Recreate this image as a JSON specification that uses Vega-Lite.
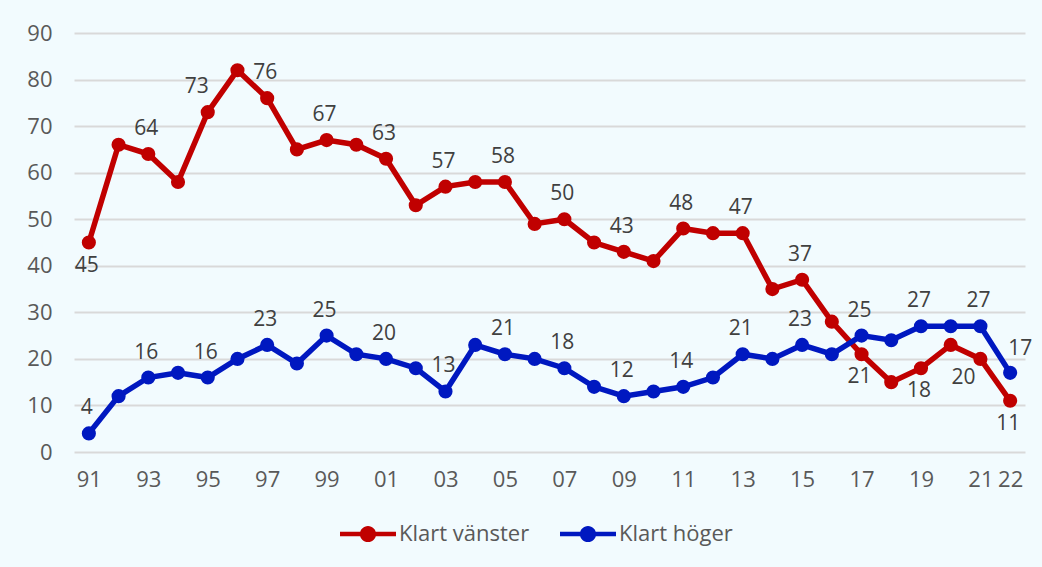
{
  "$schema": "https://vega.github.io/schema/vega-lite/v6.json",
  "autosize": {"type": "none"},
  "width": 951,
  "height": 419,
  "padding": {"left": 74, "top": 33, "right": 17, "bottom": 115},
  "background": "#f2fbfe",
  "config": {
    "view": {"stroke": null},
    "font": "Open Sans",
    "axis": {"labelFont": "Open Sans", "labelColor": "#595959", "labelFontSize": 22, "domain": false, "ticks": false, "title": null}
  },
  "data": {"values": [
    {"year": 1991, "serie": "Klart vänster", "value": 45},
    {"year": 1992, "serie": "Klart vänster", "value": 66},
    {"year": 1993, "serie": "Klart vänster", "value": 64},
    {"year": 1994, "serie": "Klart vänster", "value": 58},
    {"year": 1995, "serie": "Klart vänster", "value": 73},
    {"year": 1996, "serie": "Klart vänster", "value": 82},
    {"year": 1997, "serie": "Klart vänster", "value": 76},
    {"year": 1998, "serie": "Klart vänster", "value": 65},
    {"year": 1999, "serie": "Klart vänster", "value": 67},
    {"year": 2000, "serie": "Klart vänster", "value": 66},
    {"year": 2001, "serie": "Klart vänster", "value": 63},
    {"year": 2002, "serie": "Klart vänster", "value": 53},
    {"year": 2003, "serie": "Klart vänster", "value": 57},
    {"year": 2004, "serie": "Klart vänster", "value": 58},
    {"year": 2005, "serie": "Klart vänster", "value": 58},
    {"year": 2006, "serie": "Klart vänster", "value": 49},
    {"year": 2007, "serie": "Klart vänster", "value": 50},
    {"year": 2008, "serie": "Klart vänster", "value": 45},
    {"year": 2009, "serie": "Klart vänster", "value": 43},
    {"year": 2010, "serie": "Klart vänster", "value": 41},
    {"year": 2011, "serie": "Klart vänster", "value": 48},
    {"year": 2012, "serie": "Klart vänster", "value": 47},
    {"year": 2013, "serie": "Klart vänster", "value": 47},
    {"year": 2014, "serie": "Klart vänster", "value": 35},
    {"year": 2015, "serie": "Klart vänster", "value": 37},
    {"year": 2016, "serie": "Klart vänster", "value": 28},
    {"year": 2017, "serie": "Klart vänster", "value": 21},
    {"year": 2018, "serie": "Klart vänster", "value": 15},
    {"year": 2019, "serie": "Klart vänster", "value": 18},
    {"year": 2020, "serie": "Klart vänster", "value": 23},
    {"year": 2021, "serie": "Klart vänster", "value": 20},
    {"year": 2022, "serie": "Klart vänster", "value": 11},
    {"year": 1991, "serie": "Klart höger", "value": 4},
    {"year": 1992, "serie": "Klart höger", "value": 12},
    {"year": 1993, "serie": "Klart höger", "value": 16},
    {"year": 1994, "serie": "Klart höger", "value": 17},
    {"year": 1995, "serie": "Klart höger", "value": 16},
    {"year": 1996, "serie": "Klart höger", "value": 20},
    {"year": 1997, "serie": "Klart höger", "value": 23},
    {"year": 1998, "serie": "Klart höger", "value": 19},
    {"year": 1999, "serie": "Klart höger", "value": 25},
    {"year": 2000, "serie": "Klart höger", "value": 21},
    {"year": 2001, "serie": "Klart höger", "value": 20},
    {"year": 2002, "serie": "Klart höger", "value": 18},
    {"year": 2003, "serie": "Klart höger", "value": 13},
    {"year": 2004, "serie": "Klart höger", "value": 23},
    {"year": 2005, "serie": "Klart höger", "value": 21},
    {"year": 2006, "serie": "Klart höger", "value": 20},
    {"year": 2007, "serie": "Klart höger", "value": 18},
    {"year": 2008, "serie": "Klart höger", "value": 14},
    {"year": 2009, "serie": "Klart höger", "value": 12},
    {"year": 2010, "serie": "Klart höger", "value": 13},
    {"year": 2011, "serie": "Klart höger", "value": 14},
    {"year": 2012, "serie": "Klart höger", "value": 16},
    {"year": 2013, "serie": "Klart höger", "value": 21},
    {"year": 2014, "serie": "Klart höger", "value": 20},
    {"year": 2015, "serie": "Klart höger", "value": 23},
    {"year": 2016, "serie": "Klart höger", "value": 21},
    {"year": 2017, "serie": "Klart höger", "value": 25},
    {"year": 2018, "serie": "Klart höger", "value": 24},
    {"year": 2019, "serie": "Klart höger", "value": 27},
    {"year": 2020, "serie": "Klart höger", "value": 27},
    {"year": 2021, "serie": "Klart höger", "value": 27},
    {"year": 2022, "serie": "Klart höger", "value": 17}
  ]},
  "encoding": {
    "x": {"field": "year", "type": "quantitative",
      "scale": {"domain": [1990.5, 2022.5], "nice": false, "zero": false},
      "axis": {"values": [1991,1993,1995,1997,1999,2001,2003,2005,2007,2009,2011,2013,2015,2017,2019,2021,2022], "labelExpr": "slice(toString(datum.value), 2)", "grid": false, "labelPadding": 17}},
    "y": {"field": "value", "type": "quantitative",
      "scale": {"domain": [0, 90], "nice": false},
      "axis": {"values": [0,10,20,30,40,50,60,70,80,90], "gridColor": "#d9d9d9", "gridWidth": 2, "labelPadding": 22}},
    "color": {"field": "serie", "type": "nominal",
      "scale": {"domain": ["Klart vänster", "Klart höger"], "range": ["#c00000", "#0018c0"]},
      "legend": {"title": null, "orient": "none", "direction": "horizontal", "legendX": 266, "legendY": 473,
        "symbolType": "M-1,-0.08H1V0.08H-1Z M0.29,0A0.29,0.29,0,1,1,-0.29,0A0.29,0.29,0,1,1,0.29,0Z",
        "symbolSize": 3136, "symbolStrokeWidth": 0, "labelFont": "Open Sans", "labelFontSize": 22, "labelColor": "#595959",
        "labelOffset": 3, "columnPadding": 30, "labelLimit": 400,
        "encode": {"symbols": {"update": {"fill": {"scale": "color", "field": "value"}, "strokeWidth": {"value": 0}, "opacity": {"value": 1}}}}}
    }
  },
  "layer": [
    {"mark": {"type": "line", "strokeWidth": 5.5}},
    {"mark": {"type": "point", "filled": true, "size": 200, "opacity": 1}},
    {"transform": [{"filter": {"field": "serie", "equal": "Klart vänster"}}, {"filter": {"field": "year", "oneOf": [1993,1997,1999,2001,2003,2005,2007,2009,2011,2013,2015]}}],
     "mark": {"type": "text", "dy": -25, "dx": -2, "fontSize": 21, "font": "Open Sans"},
     "encoding": {"text": {"field": "value", "type": "quantitative"}, "color": {"value": "#404040"}}},
    {"transform": [{"filter": {"field": "serie", "equal": "Klart vänster"}}, {"filter": {"field": "year", "equal": 1995}}],
     "mark": {"type": "text", "dy": -25, "dx": -11, "fontSize": 21, "font": "Open Sans"},
     "encoding": {"text": {"field": "value", "type": "quantitative"}, "color": {"value": "#404040"}}},
    {"transform": [{"filter": {"field": "serie", "equal": "Klart vänster"}}, {"filter": {"field": "year", "oneOf": [1991,2017,2019,2022]}}],
     "mark": {"type": "text", "dy": 23, "dx": -2, "fontSize": 21, "font": "Open Sans"},
     "encoding": {"text": {"field": "value", "type": "quantitative"}, "color": {"value": "#404040"}}},
    {"transform": [{"filter": {"field": "serie", "equal": "Klart vänster"}}, {"filter": {"field": "year", "equal": 2021}}],
     "mark": {"type": "text", "dy": 19, "dx": -17, "fontSize": 21, "font": "Open Sans"},
     "encoding": {"text": {"field": "value", "type": "quantitative"}, "color": {"value": "#404040"}}},
    {"transform": [{"filter": {"field": "serie", "equal": "Klart höger"}}, {"filter": {"field": "year", "oneOf": [1991,1993,1995,1997,1999,2001,2003,2005,2007,2009,2011,2013,2015,2017,2019,2021]}}],
     "mark": {"type": "text", "dy": -25, "dx": -2, "fontSize": 21, "font": "Open Sans"},
     "encoding": {"text": {"field": "value", "type": "quantitative"}, "color": {"value": "#404040"}}},
    {"transform": [{"filter": {"field": "serie", "equal": "Klart höger"}}, {"filter": {"field": "year", "equal": 2022}}],
     "mark": {"type": "text", "dy": -24, "dx": 10, "fontSize": 21, "font": "Open Sans"},
     "encoding": {"text": {"field": "value", "type": "quantitative"}, "color": {"value": "#404040"}}}
  ]
}
